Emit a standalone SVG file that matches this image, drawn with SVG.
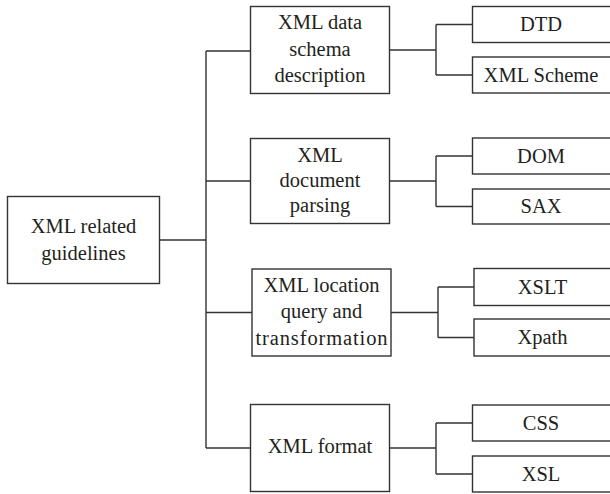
<svg xmlns="http://www.w3.org/2000/svg" width="610" height="494" viewBox="0 0 610 494">
<style>
.box{fill:#fff;stroke:#333;stroke-width:1.4}
.ln{fill:none;stroke:#333;stroke-width:1.4}
.t{font-family:'Liberation Serif','DejaVu Serif',serif;font-size:20.5px;fill:#231f20;text-anchor:middle}
</style>
<rect width="610" height="494" fill="#fff"/>
<g id="connectors">
<path class="ln" d="M159.5 240H206M206 51V448M206 51H250.5M206 181H250.5M206 312.5H252M206 448H250.5"/>
<path class="ln" d="M389.5 50H436M436 24.5V75M436 24.5H472.5M436 75H472.5"/>
<path class="ln" d="M389.5 181H436M436 156V206.5M436 156H472.5M436 206.5H472.5"/>
<path class="ln" d="M391 312.5H438M438 287V337.5M438 287H474M438 337.5H474"/>
<path class="ln" d="M389.5 448H436M436 423V474M436 423H472.5M436 474H472.5"/>
</g>
<g class="t" font-family="Liberation Serif, serif">
<g id="root"><rect class="box" x="7.5" y="196.5" width="152" height="87"/><text x="83.5" y="233">XML related</text><text x="83.5" y="260">guidelines</text></g>
<g id="n1"><rect class="box" x="250.5" y="6.5" width="139" height="87"/><text x="320" y="29">XML data</text><text x="320" y="55.5">schema</text><text x="320" y="82">description</text></g>
<g id="n2"><rect class="box" x="250.5" y="138.5" width="139" height="85"/><text x="320" y="162">XML</text><text x="320" y="187">document</text><text x="320" y="212">parsing</text></g>
<g id="n3"><rect class="box" x="252" y="269" width="139" height="87"/><text x="321.5" y="292">XML location</text><text x="321.5" y="318">query and</text><text x="321.5" y="345" textLength="132" lengthAdjust="spacing">transformation</text></g>
<g id="n4"><rect class="box" x="250.5" y="404.5" width="139" height="87"/><text x="320" y="453">XML format</text></g>
<g id="dtd"><rect class="box" x="472.5" y="6.5" width="139" height="36"/><text x="541" y="31">DTD</text></g>
<g id="xmlscheme"><rect class="box" x="472.5" y="57" width="139" height="36"/><text x="541" y="82">XML Scheme</text></g>
<g id="dom"><rect class="box" x="472.5" y="138" width="139" height="36"/><text x="541" y="163">DOM</text></g>
<g id="sax"><rect class="box" x="472.5" y="189" width="139" height="35"/><text x="541" y="213">SAX</text></g>
<g id="xslt"><rect class="box" x="474" y="268.5" width="139" height="37"/><text x="542.5" y="294">XSLT</text></g>
<g id="xpath"><rect class="box" x="474" y="319" width="139" height="37"/><text x="542.5" y="344">Xpath</text></g>
<g id="css"><rect class="box" x="472.5" y="405" width="139" height="36"/><text x="541" y="430">CSS</text></g>
<g id="xsl"><rect class="box" x="472.5" y="456" width="139" height="36"/><text x="541" y="481">XSL</text></g>
</g>
</svg>
